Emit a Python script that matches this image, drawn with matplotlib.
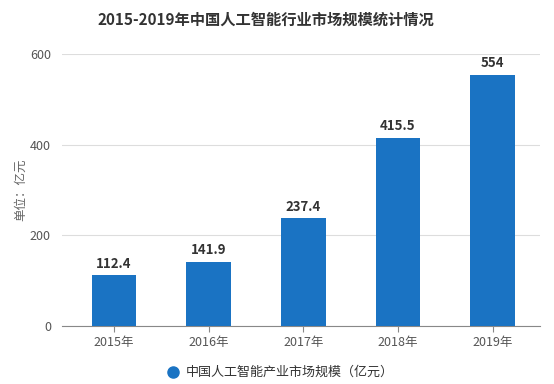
import matplotlib.pyplot as plt

plt.rcParams['font.family'] = ['Noto Sans CJK SC', 'DejaVu Sans']

years = ['2015年', '2016年', '2017年', '2018年', '2019年']
values = [112.4, 141.9, 237.4, 415.5, 554]
labels = ['112.4', '141.9', '237.4', '415.5', '554']

fig = plt.figure(figsize=(5.54, 3.84), dpi=100)
ax = fig.add_axes([62 / 554, 58 / 384, 478 / 554, 272 / 384])

x = range(len(years))
bars = ax.bar(x, values, width=0.47, color='#1a73c3', zorder=3)
for b, t in zip(bars, labels):
    ax.text(b.get_x() + b.get_width() / 2, b.get_height() + 10, t,
            ha='center', va='bottom', fontsize=9.5, fontweight='bold', color='#333333')

ax.set_ylim(0, 600)
ax.set_xlim(-0.55, 4.5)
ax.set_yticks([0, 200, 400, 600])
ax.set_xticks(list(x))
ax.set_xticklabels(years)
ax.grid(axis='y', color='#dddddd', linewidth=0.8, zorder=0)
for s in ['top', 'right', 'left']:
    ax.spines[s].set_visible(False)
ax.spines['bottom'].set_color('#888888')
ax.tick_params(axis='y', length=0, labelsize=9, labelcolor='#555555', pad=8)
ax.tick_params(axis='x', length=4, color='#888888', labelsize=9, labelcolor='#555555')
ax.set_ylabel('单位：亿元', fontsize=9, color='#666666', labelpad=2)

fig.text(0.48, 0.95, '2015-2019年中国人工智能行业市场规模统计情况',
         ha='center', va='center', fontsize=11, fontweight='bold', color='#333333')

fig.lines.append(plt.Line2D([173 / 554], [1 - 372 / 384], marker='o', markersize=8,
                            color='#1a73c3', transform=fig.transFigure))
fig.text(186 / 554, 1 - 372 / 384, '中国人工智能产业市场规模（亿元）',
         ha='left', va='center', fontsize=9.4, color='#333333')

fig.savefig('out.png', dpi=100)
